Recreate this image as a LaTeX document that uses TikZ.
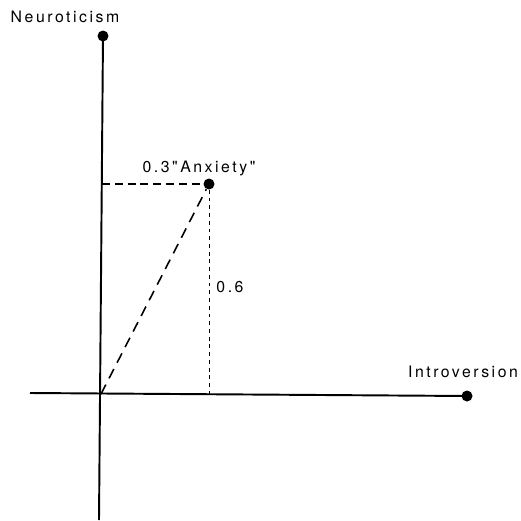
\documentclass[tikz,border=0pt]{standalone}
\usepackage{fontspec}
\newfontfamily\axfont[LetterSpace=16.0]{TeX Gyre Heros}
\usetikzlibrary{positioning}
\tikzset{
  dot/.style={circle,fill=black,inner sep=0pt,minimum size=2.2mm},
  axis/.style={line width=1.1pt,draw=black},
  proj/.style={line width=0.8pt,dash pattern=on 4.5pt off 2.8pt},
  projv/.style={line width=0.5pt,dash pattern=on 2.2pt off 2.2pt},
  vec/.style={line width=0.9pt,dash pattern=on 6pt off 4pt},
  lbl/.style={font=\axfont\fontsize{9}{11}\selectfont,inner sep=0pt,anchor=base},
}
\begin{document}
\begin{tikzpicture}[x=0.02cm,y=-0.02cm]
  \useasboundingbox (0,0) rectangle (521,521);
  % axes
  \coordinate (O) at (101,394);
  \coordinate (xl) at (30,393);
  \coordinate (yb) at (99,520);
  \node[dot] (neu) at (103,36) {};
  \node[dot] (intro) at (467,396) {};
  \draw[axis] (xl) -- (intro.center);
  \draw[axis] (yb) -- (neu.center);

  % the point and its projections
  \node[dot] (anx) at (209,184) {};
  \coordinate (anxy) at (102,184);
  \coordinate (anxx) at (anx |- O);
  \draw[proj] (anxy) -- (anx);
  \draw[projv] (anx) -- (anxx);
  \draw[vec] (O) -- (anx);

  % labels
  \node[lbl] (neulbl) at (65,22) {Neuroticism};
  \node[lbl] (introlbl) at (463,377) {Introversion};
  \node[lbl] (anxlbl) at (199,172) {0.3"Anxiety"};
  \node[lbl] (vallbl) at (230,292) {0.6};
\end{tikzpicture}
\end{document}
